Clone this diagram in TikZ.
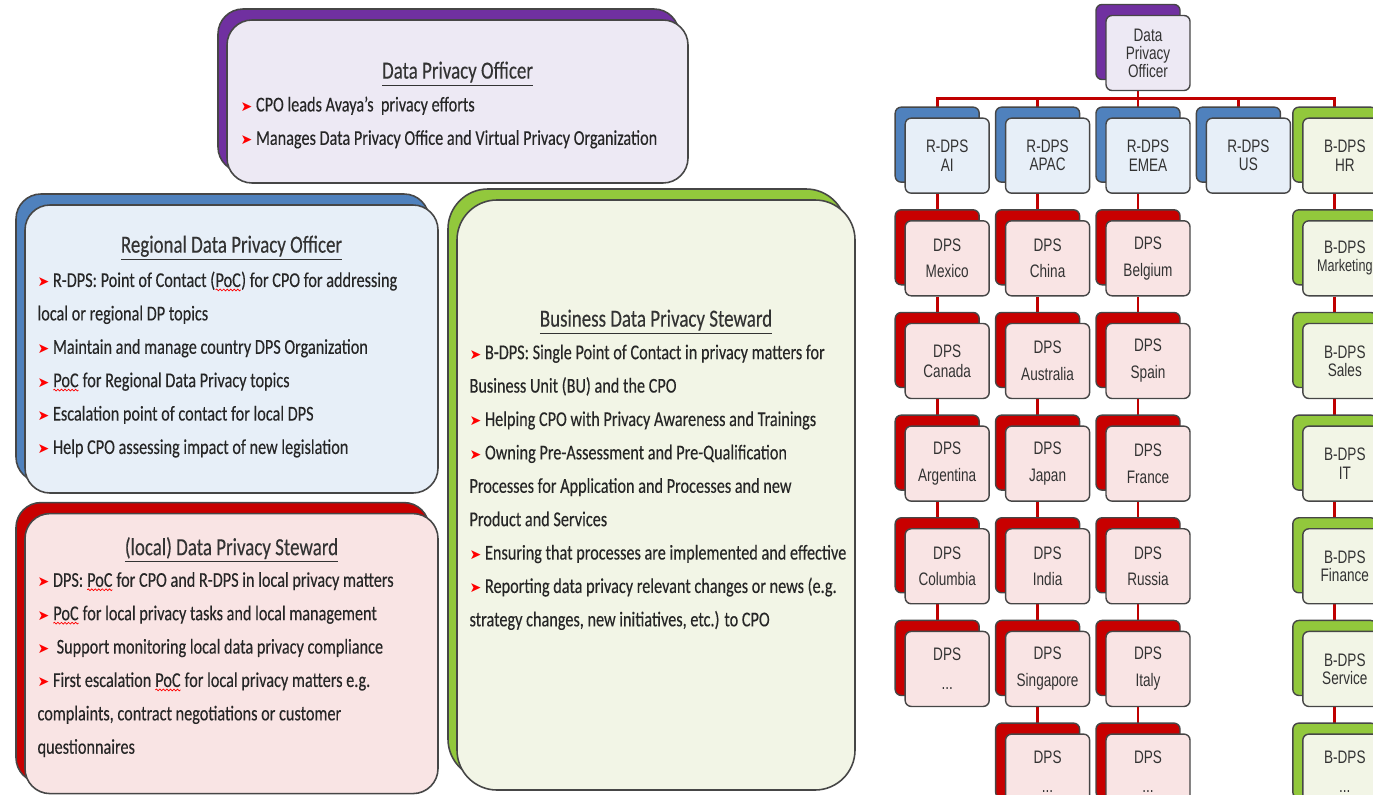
\documentclass[tikz,border=0pt]{standalone}
\usepackage{fontspec}
\setmainfont{Carlito}[FakeStretch=0.77, FakeBold=0.25]
\newfontfamily\chartfont{Liberation Sans}[FakeStretch=0.75]
\newfontfamily\arrowfont{DejaVu Sans}
\usepackage{xcolor}
\usetikzlibrary{positioning, shadows, backgrounds, decorations.pathmorphing}

\definecolor{dpopurple}{RGB}{112,48,160}
\definecolor{dpofill}{RGB}{237,233,244}
\definecolor{rblue}{RGB}{79,129,189}
\definecolor{rfill}{RGB}{231,239,248}
\definecolor{lred}{RGB}{200,0,0}
\definecolor{lfill}{RGB}{249,228,228}
\definecolor{bgreen}{RGB}{146,200,60}
\definecolor{bfill}{RGB}{242,245,230}
\definecolor{linkred}{RGB}{192,0,0}
\definecolor{edge}{RGB}{70,70,70}

\newcommand{\bul}{{\arrowfont\fontsize{8}{8}\selectfont\textcolor{red}{➤}}\ }
\newcommand{\poc}{\tikz[baseline=(p.base)]{\node[inner sep=0pt, outer sep=0pt] (p) {PoC};
    \draw[red, line width=0.4pt, decorate, decoration={snake, amplitude=0.5pt, segment length=2pt}]
    ([yshift=-1.6pt]p.south west) -- ([yshift=-1.6pt]p.south east);}}

\tikzset{
    bigbox/.style 2 args={
        rectangle,
        rounded corners=5mm,
        draw=edge,
        line width=0.9pt,
        fill=#2,
        copy shadow={shadow xshift=-1.8mm, shadow yshift=2.2mm, fill=#1, draw=edge, line width=0.9pt}
    },
    title/.style={
        inner sep=0pt,
        text=black!80,
        font=\fontsize{14}{16}\selectfont
    },
    body/.style={
        inner sep=0pt,
        align=left,
        text=black!85,
        font=\fontsize{12}{19}\selectfont
    },
    orgbox/.style 2 args={
        rectangle,
        rounded corners=1.2mm,
        draw=edge,
        line width=0.8pt,
        minimum width=16.8mm,
        minimum height=15mm,
        inner sep=0pt,
        align=center,
        fill=#2,
        text=black!80,
        font=\chartfont\fontsize{10.3}{10.3}\selectfont,
        copy shadow={shadow xshift=-2mm, shadow yshift=2.2mm, fill=#1, draw=edge, line width=0.8pt}
    },
    dpobox/.style={orgbox={dpopurple}{dpofill}},
    rbox/.style={orgbox={rblue}{rfill}},
    dpsbox/.style={orgbox={lred}{lfill}},
    bbox/.style={orgbox={bgreen}{bfill}},
    link/.style={
        draw=linkred,
        line width=1.6pt
    }
}

\begin{document}
\begin{tikzpicture}[x=0.2mm, y=-0.2mm, node distance=5.25mm and 3mm]
\useasboundingbox (0,0) rectangle (1373,795);

% Role descriptions (left)
\node[bigbox={dpopurple}{dpofill}, minimum width=92.2mm, minimum height=32.6mm] (dpoinfo) at (457.5,101.5) {};
\node[title, below=8.4mm of dpoinfo.north] (dpoinfo-title) {\underline{Data Privacy Officer}};
\node[body, below right=15.4mm and 2.8mm of dpoinfo.north west] (dpoinfo-text) {\bul CPO leads Avaya’s\ \ privacy efforts\\
\bul Manages Data Privacy Office and Virtual Privacy Organization};

\node[bigbox={rblue}{rfill}, minimum width=82.6mm, minimum height=57.6mm] (rdpsinfo) at (231.5,349) {};
\node[title, below=6.2mm of rdpsinfo.north] (rdpsinfo-title) {\underline{Regional Data Privacy Officer}};
\node[body, below right=13.4mm and 2.6mm of rdpsinfo.north west] (rdpsinfo-text) {\bul R-DPS: Point of Contact (\poc) for CPO for addressing\\
local or regional DP topics\\
\bul Maintain and manage country DPS Organization\\
\bul \poc{} for Regional Data Privacy topics\\
\bul Escalation point of contact for local DPS\\
\bul Help CPO assessing impact of new legislation};

\node[bigbox={lred}{lfill}, minimum width=82.6mm, minimum height=56mm, below=3.8mm of rdpsinfo] (dpsinfo) {};
\node[title, below=4.8mm of dpsinfo.north] (dpsinfo-title) {\underline{(local) Data Privacy Steward}};
\node[body, below right=11.8mm and 2.6mm of dpsinfo.north west] (dpsinfo-text) {\bul DPS: \poc{} for CPO and R-DPS in local privacy matters\\
\bul \poc{} for local privacy tasks and local management\\
\bul\ Support monitoring local data privacy compliance\\
\bul First escalation \poc{} for local privacy matters e.g.\\
complaints, contract negotiations or customer\\
questionnaires};

\node[bigbox={bgreen}{bfill}, minimum width=79.6mm, minimum height=118mm, rounded corners=8mm] (bdpsinfo) at (656,495) {};
\node[title, below=22mm of bdpsinfo.north] (bdpsinfo-title) {\underline{Business Data Privacy Steward}};
\node[body, below right=29mm and 2.6mm of bdpsinfo.north west] (bdpsinfo-text) {\bul B-DPS: Single Point of Contact in privacy matters for\\
Business Unit (BU) and the CPO\\
\bul Helping CPO with Privacy Awareness and Trainings\\
\bul Owning Pre-Assessment and Pre-Qualification\\
Processes for Application and Processes and new\\
Product and Services\\
\bul Ensuring that processes are implemented and effective\\
\bul Reporting data privacy relevant changes or news (e.g.\\
strategy changes, new initiatives, etc.) to CPO};

% Org chart (right)
\node[dpobox] (dpo) at (1148,53) {Data\\Privacy\\Officer};
\node[rbox, below=of dpo] (remea) {R-DPS\\EMEA};
\node[rbox, left=of remea] (rapac) {R-DPS\\APAC};
\node[rbox, left=of rapac] (rai) {R-DPS\\AI};
\node[rbox, right=of remea] (rus) {R-DPS\\US};
\node[bbox, right=2.2mm of rus] (bhr) {B-DPS\\HR};

\node[dpsbox, below=of rai] (mexico) {DPS\\[5pt]Mexico};
\node[dpsbox, below=of mexico] (canada) {DPS\\[1pt]Canada};
\node[dpsbox, below=of canada] (argentina) {DPS\\[5pt]Argentina};
\node[dpsbox, below=of argentina] (columbia) {DPS\\[5pt]Columbia};
\node[dpsbox, below=of columbia] (aimore) {DPS\\[6pt]...};

\node[dpsbox, below=of rapac] (china) {DPS\\[5pt]China};
\node[dpsbox, below=of china] (australia) {DPS\\[5pt]Australia};
\node[dpsbox, below=of australia] (japan) {DPS\\[5pt]Japan};
\node[dpsbox, below=of japan] (india) {DPS\\[5pt]India};
\node[dpsbox, below=of india] (singapore) {DPS\\[5pt]Singapore};
\node[dpsbox, below=of singapore] (apacmore) {DPS\\[6pt]...};

\node[dpsbox, below=of remea] (belgium) {DPS\\[5pt]Belgium};
\node[dpsbox, below=of belgium] (spain) {DPS\\[5pt]Spain};
\node[dpsbox, below=of spain] (france) {DPS\\[5pt]France};
\node[dpsbox, below=of france] (russia) {DPS\\[5pt]Russia};
\node[dpsbox, below=of russia] (italy) {DPS\\[5pt]Italy};
\node[dpsbox, below=of italy] (emeamore) {DPS\\[6pt]...};

\node[bbox, below=of bhr] (marketing) {B-DPS\\{\fontsize{9.6}{9.6}\selectfont Marketing}};
\node[bbox, below=of marketing] (sales) {B-DPS\\Sales};
\node[bbox, below=of sales] (it) {B-DPS\\IT};
\node[bbox, below=of it] (finance) {B-DPS\\Finance};
\node[bbox, below=of finance] (service) {B-DPS\\Service};
\node[bbox, below=of service] (bmore) {B-DPS\\[6pt]...};

% Connectors (behind the boxes)
\begin{scope}[on background layer]
\coordinate (bus) at ([xshift=-2mm, yshift=-1.4mm]dpo.south);
\draw[link] ([xshift=-2mm]dpo.south) -- (bus);
\foreach \b in {rai, rapac, remea, rus, bhr}
    \draw[link] (bus) -| ([xshift=-2mm]\b.north);
\foreach \a/\b in {rai/mexico, mexico/canada, canada/argentina, argentina/columbia, columbia/aimore,
    rapac/china, china/australia, australia/japan, japan/india, india/singapore, singapore/apacmore,
    remea/belgium, belgium/spain, spain/france, france/russia, russia/italy, italy/emeamore,
    bhr/marketing, marketing/sales, sales/it, it/finance, finance/service, service/bmore}
    \draw[link] ([xshift=-2mm]\a.south) -- ([xshift=-2mm]\b.north);
\end{scope}

\end{tikzpicture}
\end{document}
